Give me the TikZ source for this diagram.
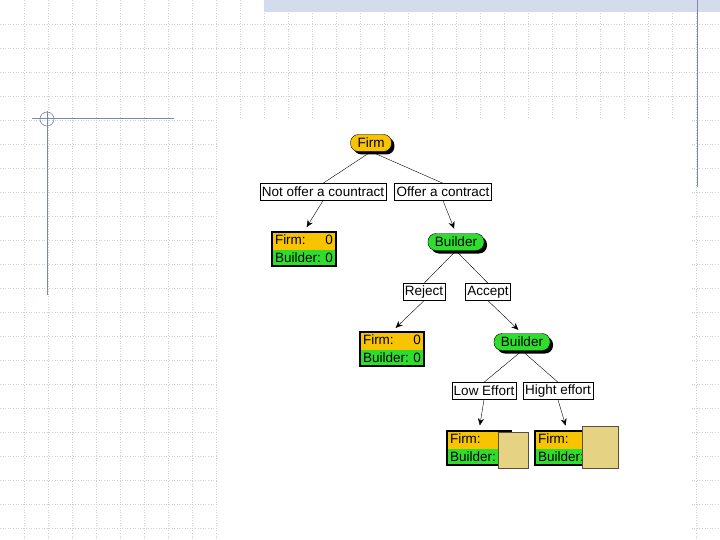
\documentclass[tikz,border=0pt]{standalone}
\usepackage{fontspec}
\setmainfont{Liberation Sans}
\usetikzlibrary{arrows.meta,shadows,shapes.multipart}
\definecolor{firmYellow}{HTML}{F8C400}
\definecolor{builderGreen}{HTML}{2EDD2E}
\definecolor{gridGray}{HTML}{CFCFCF}
\definecolor{slateBlue}{HTML}{7A88B0}
\definecolor{bandBlue}{HTML}{D2DCEC}
\definecolor{tanFill}{HTML}{E6D283}
\definecolor{tanEdge}{HTML}{5A4E40}

\begin{document}
\begin{tikzpicture}[x=1pt,y=-1pt, font=\fontsize{13.5}{15}\selectfont,
  player/.style={draw,rounded corners=8pt,minimum height=17pt,inner xsep=7pt,inner ysep=0pt,
                 drop shadow={shadow xshift=3pt,shadow yshift=-3pt,fill=black,opacity=1}},
  move/.style={draw,fill=white,minimum height=17pt,inner xsep=2pt,inner ysep=0pt},
  payoff/.style={rectangle split,rectangle split parts=2,rectangle split draw splits=false,
                 rectangle split part fill={firmYellow,builderGreen},draw,line width=1.2pt,
                 text width=58pt,text height=9.5pt,text depth=3pt,inner xsep=3pt,inner ysep=2.3pt},
  cover/.style={draw=tanEdge,fill=tanFill,line width=0.8pt},
  gridline/.style={gridGray,dash pattern=on 1pt off 1.6pt,line width=0.8pt}]
\useasboundingbox (0,0) rectangle (720,540);
% slide background
\foreach \x in {24,48,...,696} \draw[gridline] (\x,0) -- (\x,540);
\foreach \y in {24,48,...,528} \draw[gridline] (0,\y) -- (720,\y);
\fill[white] (218,118) rectangle (690,540);
\fill[bandBlue] (264,0) rectangle (720,12);
\draw[slateBlue,line width=1pt] (697,0) -- (697,187);
\draw[slateBlue,line width=1pt] (32,119) -- (174,119);
\draw[slateBlue,line width=1pt] (47,111) -- (47,295);
\draw[slateBlue,line width=0.6pt] (47,119) circle (7pt);
% game tree
\node[player,fill=firmYellow] (firm) at (371,143) {Firm};
\node[move] (notOffer) at (323,192) {Not offer a countract};
\node[move] (offer) at (443,192) {Offer a contract};
\node[payoff] (payA) at (304,249) {Firm:\hfill 0\nodepart{two}Builder:\hfill 0};
\node[player,fill=builderGreen] (builderA) at (456,242) {Builder};
\node[move] (reject) at (424,292) {Reject};
\node[move] (accept) at (488,292) {Accept};
\node[payoff] (payB) at (392,349) {Firm:\hfill 0\nodepart{two}Builder:\hfill 0};
\node[player,fill=builderGreen] (builderB) at (522,342) {Builder};
\node[move] (low) at (484,391) {Low Effort};
\node[move] (high) at (558,391) {Hight effort};
\node[payoff] (payC) at (479,448) {Firm:\nodepart{two}Builder:};
\node[payoff] (payD) at (567,448) {Firm:\nodepart{two}Builder:};
\node[cover,minimum width=30pt,minimum height=36pt] (coverC) at (513,450) {};
\node[cover,minimum width=36pt,minimum height=42pt] (coverD) at (600,447) {};
\foreach \a/\b in {firm/notOffer, firm/offer, builderA/reject, builderA/accept, builderB/low, builderB/high}
  \draw (\a.south) -- (\b.north);
\foreach \a/\b in {notOffer/payA, offer/builderA, reject/payB, accept/builderB, low/payC, high/payD}
  \draw[-{Stealth[length=7pt,width=6pt]},shorten >=5pt] (\a.south) -- (\b.north);
\end{tikzpicture}
\end{document}
